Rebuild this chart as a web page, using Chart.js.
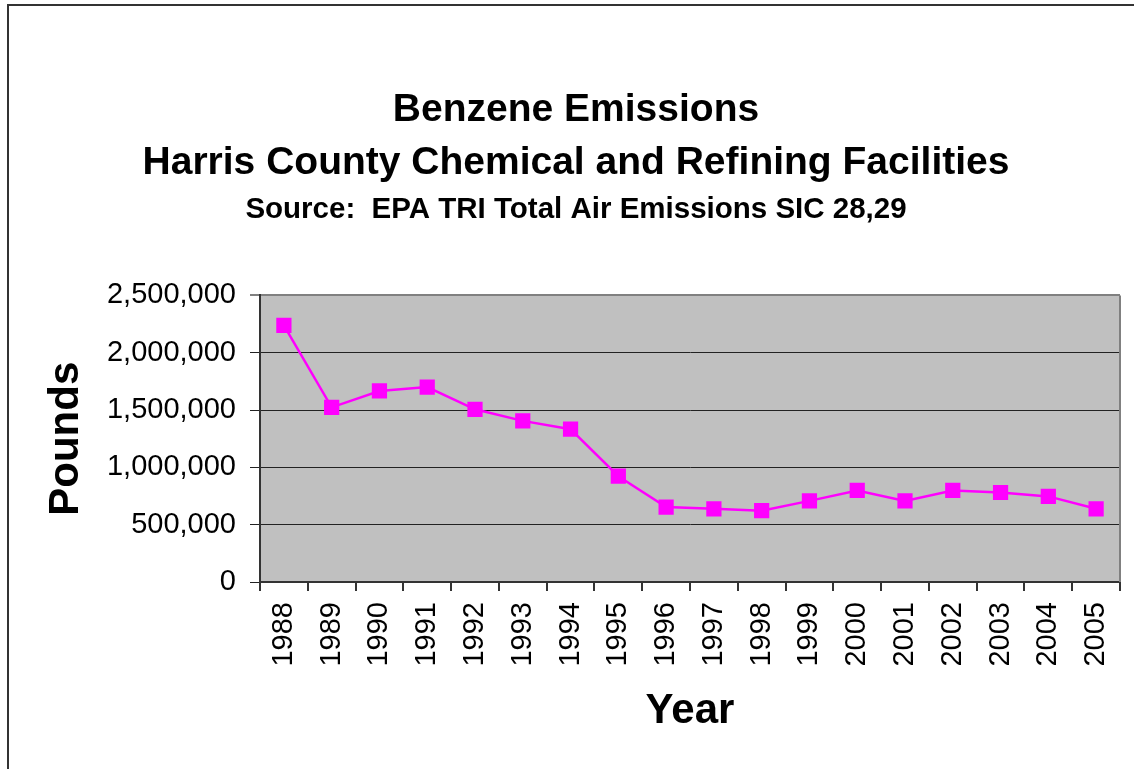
<!DOCTYPE html>
<html>
<head>
<meta charset="utf-8">
<script src="https://cdn.jsdelivr.net/npm/chart.js@4/dist/chart.umd.min.js"></script>
<style>
  html, body { margin: 0; padding: 0; background: #fff; }
  #wrap { position: relative; width: 1134px; height: 769px; }
</style>
</head>
<body>
<div id="wrap"><canvas id="benzene-chart"></canvas></div>
<script>
// values
const years = ['1988', '1989', '1990', '1991', '1992', '1993', '1994', '1995', '1996',
               '1997', '1998', '1999', '2000', '2001', '2002', '2003', '2004', '2005'];
const benzenePounds = [2240000, 1524000, 1667000, 1701000, 1507000, 1406000, 1333000, 923000, 654000,
                       639000, 622000, 708000, 799000, 708000, 799000, 781000, 747000, 639000];
const yMin = 0;
const yMax = 2500000;
const yStep = 500000;

const titleLines = ['Benzene Emissions', 'Harris County Chemical and Refining Facilities'];
const subtitleText = 'Source:  EPA TRI Total Air Emissions SIC 28,29';

document.addEventListener('DOMContentLoaded', function() {
    Chart.defaults.font.family = '"Liberation Sans", Arial, sans-serif';
    Chart.defaults.color = '#000';

    // gray plot background, gray right edge, and the outer frame lines
    const plotBackground = {
        id: 'plotBackground',
        beforeDraw(chart) {
            const {ctx, chartArea: a} = chart;
            ctx.save();
            ctx.fillStyle = '#C0C0C0';
            ctx.fillRect(a.left, a.top, a.right - a.left, a.bottom - a.top);
            ctx.strokeStyle = '#333';
            ctx.lineWidth = 2;
            ctx.beginPath();
            ctx.moveTo(8, 769);
            ctx.lineTo(8, 5);
            ctx.lineTo(1134, 5);
            ctx.stroke();
            ctx.restore();
        },
        afterDatasetsDraw(chart) {
            const {ctx, chartArea: a} = chart;
            ctx.save();
            ctx.strokeStyle = '#808080';
            ctx.lineWidth = 2;
            ctx.beginPath();
            ctx.moveTo(a.right, a.top);
            ctx.lineTo(a.right, a.bottom);
            ctx.stroke();
            ctx.restore();
        }
    };

    new Chart(document.getElementById('benzene-chart'), {
        type: 'line',
        data: {
            labels: years,
            datasets: [{
                label: 'Benzene',
                data: benzenePounds,
                borderColor: '#FF00FF',
                backgroundColor: '#FF00FF',
                borderWidth: 2.5,
                pointStyle: 'rect',
                pointRadius: 9,
                pointHoverRadius: 9,
                tension: 0
            }]
        },
        options: {
            responsive: true,
            maintainAspectRatio: false,
            animation: false,
            layout: { padding: { left: 32, right: 14, top: 0, bottom: 0 } },
            plugins: {
                legend: { display: false },
                tooltip: { enabled: false },
                title: {
                    display: true,
                    text: titleLines,
                    font: { size: 39, weight: 'bold', lineHeight: 1.36 },
                    padding: { top: 84, bottom: 0 }
                },
                subtitle: {
                    display: true,
                    text: subtitleText,
                    font: { size: 29.5, weight: 'bold', lineHeight: 1.2 },
                    padding: { top: 2, bottom: 68 }
                }
            },
            scales: {
                x: {
                    offset: true,
                    grid: {
                        offset: true,
                        drawOnChartArea: false,
                        color: '#333',
                        tickLength: 9,
                        lineWidth: 2
                    },
                    border: { color: '#333', width: 2 },
                    ticks: {
                        minRotation: 90,
                        maxRotation: 90,
                        autoSkip: false,
                        padding: 11,
                        font: { size: 29 }
                    },
                    title: {
                        display: true,
                        text: 'Year',
                        font: { size: 42, weight: 'bold', lineHeight: 1.2 },
                        padding: { bottom: 32 }
                    },
                    afterFit(scale) {
                        scale.height = 187;
                        scale.paddingLeft = 0;
                        scale.paddingRight = 0;
                    }
                },
                y: {
                    min: yMin,
                    max: yMax,
                    grid: {
                        color: ctx => (ctx.tick && ctx.tick.value === yMax ? '#808080' : '#222'),
                        tickLength: 10,
                        lineWidth: ctx => (ctx.tick && ctx.tick.value === yMax ? 2 : 1)
                    },
                    border: { color: '#333', width: 2 },
                    ticks: {
                        stepSize: yStep,
                        padding: 14,
                        font: { size: 29 },
                        callback: v => v.toLocaleString('en-US')
                    },
                    title: {
                        display: true,
                        text: 'Pounds',
                        font: { size: 42, weight: 'bold', lineHeight: 1.2 },
                        padding: { top: 9 }
                    },
                    afterFit(scale) { scale.width = 228; }
                }
            }
        },
        plugins: [plotBackground]
    });
});
</script>
</body>
</html>
